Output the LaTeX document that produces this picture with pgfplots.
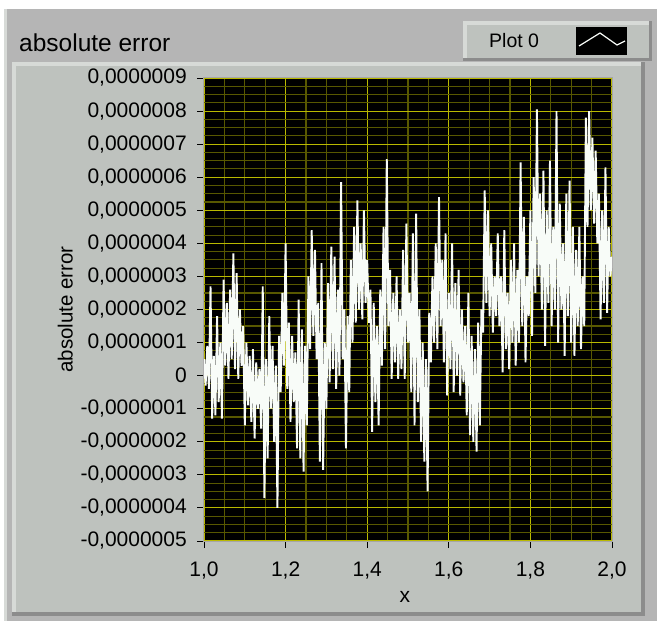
\documentclass[border=0pt]{standalone}
\usepackage{fontspec}
\setmainfont{Liberation Sans}
\usepackage{pgfplots}
\usepackage{pgfplotstable}
\pgfplotsset{compat=1.18}
\definecolor{outerbg}{RGB}{181,181,181}
\definecolor{panelbg}{RGB}{190,194,190}
\definecolor{paneldark}{RGB}{140,140,140}
\definecolor{panellight}{RGB}{215,218,215}
\definecolor{majgrid}{RGB}{185,185,0}
\definecolor{mingrid}{RGB}{88,88,0}
\definecolor{trace}{RGB}{248,252,248}
\pgfplotstableread{
x y
1.000 0.5
1.004 -0.3
1.008 0.9
1.012 -0.4
1.016 2.7
1.020 -1.3
1.024 0.6
1.028 -1.2
1.032 1.8
1.036 -0.8
1.040 1.0
1.044 -1.3
1.048 2.9
1.052 0.3
1.056 2.2
1.060 -0.1
1.064 2.6
1.068 0.5
1.072 3.7
1.076 0.2
1.080 3.1
1.084 -0.1
1.088 2.0
1.092 0.3
1.096 1.5
1.100 -1.5
1.104 1.0
1.108 -0.9
1.112 0.6
1.116 -1.4
1.120 0.8
1.124 -1.9
1.128 0.4
1.132 -1.0
1.136 0.2
1.140 -1.6
1.144 2.7
1.148 -3.7
1.152 0.5
1.156 -2.5
1.160 1.8
1.164 -1.0
1.168 0.9
1.172 -2.0
1.176 0.3
1.180 -4.0
1.184 1.2
1.188 -0.5
1.192 2.5
1.196 0.3
1.200 4.0
1.204 -0.4
1.208 1.6
1.212 -1.4
1.216 1.2
1.220 -0.8
1.224 0.7
1.228 -2.2
1.232 2.3
1.236 -2.5
1.240 1.4
1.244 -2.9
1.248 0.9
1.252 -1.5
1.256 3.0
1.260 0.8
1.264 4.4
1.268 1.2
1.272 3.8
1.276 0.5
1.280 2.2
1.284 -2.6
1.288 3.4
1.292 -2.85
1.296 1.0
1.300 -1.0
1.304 2.8
1.308 -0.2
1.312 3.9
1.316 0.2
1.320 3.6
1.324 -0.4
1.328 2.6
1.332 0.0
1.336 5.85
1.340 0.5
1.344 2.0
1.348 -2.2
1.352 1.8
1.356 -0.5
1.360 3.5
1.364 1.0
1.368 4.5
1.372 1.6
1.376 5.3
1.380 2.0
1.384 4.0
1.388 1.7
1.392 5.0
1.396 2.2
1.400 3.5
1.404 1.6
1.408 2.6
1.412 -1.7
1.416 2.2
1.420 -0.8
1.424 1.5
1.428 -1.5
1.432 2.6
1.436 0.3
1.440 4.5
1.444 0.8
1.448 6.55
1.452 1.5
1.456 3.2
1.460 -0.1
1.464 2.5
1.468 0.4
1.472 3.0
1.476 -0.1
1.480 2.0
1.484 0.2
1.488 3.8
1.492 -0.1
1.496 4.6
1.500 1.0
1.504 2.5
1.508 -0.5
1.512 4.3
1.516 -1.5
1.520 4.9
1.524 -0.8
1.528 2.0
1.532 -2.0
1.536 1.0
1.540 -2.6
1.544 0.5
1.548 -3.5
1.552 1.9
1.556 0.4
1.560 3.0
1.564 1.0
1.568 4.0
1.572 0.8
1.576 5.4
1.580 1.5
1.584 3.5
1.588 0.4
1.592 4.3
1.596 -0.6
1.600 2.5
1.604 0.2
1.608 4.0
1.612 -0.5
1.616 2.8
1.620 0.0
1.624 3.2
1.628 -0.6
1.632 2.0
1.636 -0.2
1.640 1.5
1.644 -1.2
1.648 2.5
1.652 -1.8
1.656 1.2
1.660 -2.0
1.664 0.8
1.668 -2.3
1.672 1.6
1.676 -1.5
1.680 2.0
1.684 1.3
1.688 5.6
1.692 2.2
1.696 5.0
1.700 1.8
1.704 4.0
1.708 1.3
1.712 3.0
1.716 1.8
1.720 4.3
1.724 1.5
1.728 3.0
1.732 0.1
1.736 4.4
1.740 0.8
1.744 2.5
1.748 0.2
1.752 3.5
1.756 1.0
1.760 4.0
1.764 0.3
1.768 3.2
1.772 1.0
1.776 6.45
1.780 1.5
1.784 4.8
1.788 0.4
1.792 3.0
1.796 1.8
1.800 5.0
1.804 1.2
1.808 6.0
1.812 2.5
1.816 8.05
1.820 3.0
1.824 5.5
1.828 2.0
1.832 6.2
1.836 0.9
1.840 5.0
1.844 2.2
1.848 6.5
1.852 1.5
1.856 4.5
1.860 2.0
1.864 8.0
1.868 1.0
1.872 5.2
1.876 2.0
1.880 4.0
1.884 0.6
1.888 5.5
1.892 1.8
1.896 5.9
1.900 1.0
1.904 4.5
1.908 0.6
1.912 3.8
1.916 1.5
1.920 4.5
1.924 0.8
1.928 3.0
1.932 1.5
1.936 7.8
1.940 4.5
1.944 8.0
1.948 5.0
1.952 7.2
1.956 4.6
1.960 6.8
1.964 4.0
1.968 5.5
1.972 1.7
1.976 5.0
1.980 2.2
1.984 6.3
1.988 1.9
1.992 4.5
1.996 3.0
2.000 3.6
}\abserr
\begin{document}
\begin{tikzpicture}[x=1pt,y=1pt]
\useasboundingbox (0,0) rectangle (657,-621);
\fill[white] (0,0) rectangle (657,-621);
% outer window
\fill[outerbg] (4,-9) rectangle (657,-621);
\fill[panellight] (4,-9) rectangle (7,-621);
% panel
\fill[paneldark] (12,-62) rectangle (645,-616);
\fill[panellight] (12,-62) rectangle (641,-612);
\fill[panelbg] (16,-66) rectangle (641,-612);
% legend box
\fill[paneldark] (463,-21) rectangle (652,-61);
\fill[panellight] (463,-21) rectangle (649,-58);
\fill[panelbg] (467,-25) rectangle (649,-58);
\fill[black] (576,-27) rectangle (627,-55);
\draw[trace, line width=1.2pt] (579,-46) -- (600,-33) -- (617,-45) -- (625,-41);
\node[anchor=west, inner sep=0pt, font=\fontsize{19.5}{22}\selectfont] at (489,-41) {Plot 0};
\node[anchor=west, inner sep=0pt, font=\fontsize{24.5}{28}\selectfont] at (19,-43) {absolute error};
\begin{axis}[
  at={(204pt,-541pt)}, anchor=south west,
  scale only axis, width=408pt, height=463pt,
  xmin=1, xmax=2, ymin=-5, ymax=9,
  axis background/.style={fill=black},
  axis line style={draw=black!35, line width=1pt},
  xtick={1,1.2,1.4,1.6,1.8,2},
  xticklabels={{1,0},{1,2},{1,4},{1,6},{1,8},{2,0}},
  ytick={-5,-4,-3,-2,-1,0,1,2,3,4,5,6,7,8,9},
  yticklabels={{-0,0000005},{-0,0000004},{-0,0000003},{-0,0000002},{-0,0000001},{0},{0,0000001},{0,0000002},{0,0000003},{0,0000004},{0,0000005},{0,0000006},{0,0000007},{0,0000008},{0,0000009}},
  minor x tick num=3, minor y tick num=3,
  grid=both,
  major grid style={draw=majgrid, line width=1.1pt},
  minor grid style={draw=mingrid, line width=1.1pt},
  xtick pos=bottom, ytick pos=left,
  tick align=outside,
  major tick length=7pt, minor tick length=0pt,
  tick style={black, line width=0.9pt},
  tick label style={font=\fontsize{21}{24}\selectfont},
  yticklabel style={inner sep=0pt, xshift=-10pt},
  xticklabel style={inner sep=0pt, yshift=-14pt},
  xlabel={x}, ylabel={absolute error},
  xlabel style={font=\fontsize{21}{24}\selectfont, at={(axis description cs:0.4926,-0.121)}, anchor=center, inner sep=0pt},
  ylabel style={font=\fontsize{20.5}{24}\selectfont, at={(axis description cs:-0.340,0.5)}, anchor=center, inner sep=0pt},
]
\addplot[trace, line width=1.9pt] table[x=x,y=y] {\abserr};
\end{axis}
\end{tikzpicture}
\end{document}
